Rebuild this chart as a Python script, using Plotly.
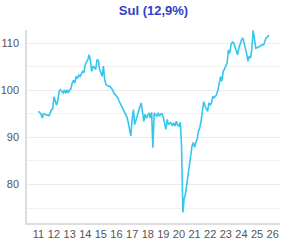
import pandas as pd
import plotly.graph_objects as go

title_text = "Sul (12,9%)"
start_month = "2011-01-01"
values = [
    # 2011
    95.5, 95.3, 95.0, 94.1, 95.0, 94.9, 94.8, 94.8, 94.6, 95.0, 95.9, 96.0,
    # 2012
    98.6, 97.7, 96.8, 97.9, 99.8, 100.1, 99.6, 99.4, 100.1, 99.3, 100.1, 99.4,
    # 2013
    100.0, 100.4, 101.5, 102.1, 101.5, 102.9, 102.6, 103.2, 102.9, 103.6, 104.0, 103.7,
    # 2014
    105.4, 106.0, 106.4, 107.5, 106.4, 104.0, 105.1, 104.8, 104.4, 106.4, 106.4, 104.5,
    # 2015
    103.6, 102.9, 105.1, 102.2, 101.2, 101.0, 100.8, 100.8, 100.4, 100.1, 99.4, 99.1,
    # 2016
    98.8, 98.4, 97.7, 97.0, 96.5, 96.0, 95.5, 94.8, 94.3, 93.2, 92.0, 90.3,
    # 2017
    93.8, 95.9, 92.7, 93.8, 94.8, 95.9, 96.5, 97.3, 95.2, 93.4, 94.9, 94.1,
    # 2018
    94.6, 95.2, 94.1, 95.3, 87.8, 95.2, 94.8, 94.5, 95.2, 94.5, 94.9, 95.0,
    # 2019
    94.2, 93.1, 91.7, 93.8, 92.7, 93.0, 93.1, 92.4, 93.1, 92.4, 93.4, 92.6,
    # 2020
    92.4, 93.2, 88.2, 74.1, 77.0, 78.0, 80.0, 81.5, 84.7, 86.5, 88.2, 88.9,
    # 2021
    87.9, 89.0, 89.6, 91.3, 92.0, 93.5, 95.2, 97.6, 96.6, 96.0, 95.5, 97.3,
    # 2022
    96.9, 97.3, 98.7, 98.4, 98.8, 99.1, 100.1, 101.5, 102.9, 101.9, 104.0, 104.5,
    # 2023
    105.2, 105.8, 108.5, 107.8, 109.6, 110.2, 110.1, 109.2, 107.9, 107.5, 108.9, 109.9,
    # 2024
    110.6, 111.1, 110.2, 108.9, 107.8, 106.1, 107.2, 106.8, 109.0, 112.7, 110.2, 108.9,
    # 2025
    109.0, 109.2, 109.2, 109.4, 109.6, 109.6, 110.6, 111.1, 111.3, 111.7,
]
dates = pd.date_range(start_month, periods=len(values), freq="MS")
year_ticks = [f"{y}-01-01" for y in range(2011, 2027)]
year_labels = [str(y)[2:] for y in range(2011, 2027)]
y_ticks = [80, 90, 100, 110]

fig = go.Figure()
fig.add_trace(go.Scatter(
    x=dates, y=values, mode="lines",
    line=dict(color="#35c6ee", width=1.6),
    hoverinfo="skip", showlegend=False,
))

fig.update_layout(
    width=285, height=243,
    margin=dict(l=27, r=5, t=30, b=20, autoexpand=False),
    paper_bgcolor="white", plot_bgcolor="white",
    title=dict(text="<b>" + title_text + "</b>", xref="paper", x=0.5, xanchor="center",
               y=0.955, yanchor="middle",
               font=dict(family="Liberation Sans, Arial, sans-serif", size=13, color="#3340c8")),
    font=dict(family="Liberation Sans, Arial, sans-serif", size=11, color="#555555"),
)
fig.update_xaxes(
    type="date", automargin=False,
    range=["2010-04-10", "2026-06-20"],
    tickmode="array", tickvals=year_ticks, ticktext=year_labels,
    showgrid=False, zeroline=False,
    showline=True, linecolor="#dddddd", linewidth=1.5,
    ticks="", tickfont=dict(size=11, color="#555555"),
)
fig.update_yaxes(
    range=[71.85, 112.76], automargin=False,
    tickmode="array", tickvals=y_ticks,
    showgrid=True, gridcolor="#ebebeb", gridwidth=1,
    minor=dict(tickmode="array", tickvals=[75, 85, 95, 105], showgrid=True,
               gridcolor="#f2f2f2", gridwidth=1),
    zeroline=False,
    showline=True, linecolor="#dddddd", linewidth=1.5,
    ticks="", ticklabelstandoff=4, tickfont=dict(size=11, color="#555555"),
)
fig.write_html("out.html")
